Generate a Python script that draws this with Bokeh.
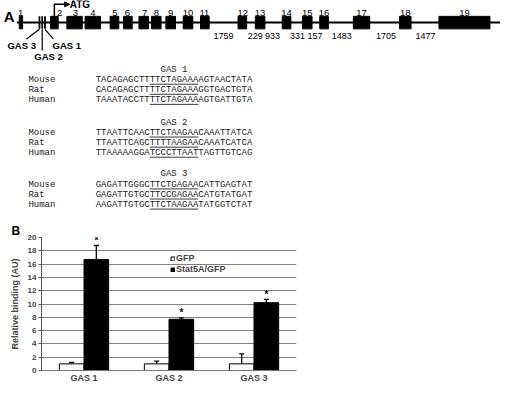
from bokeh.plotting import figure
from bokeh.models import (Range1d, FactorRange, FixedTicker, Whisker, TeeHead,
                          LabelSet, Legend, LegendItem, Arrow, NormalHead, ColumnDataSource)
from bokeh.transform import dodge
from bokeh.layouts import column
from bokeh.core.properties import value
from bokeh.embed import file_html
from bokeh.resources import INLINE

SANS = "Liberation Sans"
MONO = "Liberation Mono"

# ---------------- Panel A data (schematic, reference-pixel units) ----------------
gene_line_x = [17, 520]
gene_line_y = 23
exon_labels = [str(i) for i in range(1, 20)]
exon_start = [19.5, 52, 69, 88, 114, 128, 144, 157, 172, 190, 208, 247, 265, 293, 314, 332, 367, 415, 456]
exon_end = [23, 60, 85, 104, 123, 137, 154, 167, 182, 200, 217, 256, 275, 302, 324, 341, 384, 427, 509]
exon_label_x = [21, 61.5, 78, 96, 119, 132, 150, 162, 177, 195, 212, 252, 270, 297.5, 319, 336.5, 375.5, 421, 482.5]
intron_sizes = ["1759", "229", "933", "331", "157", "1483", "1705", "1477"]
intron_label_x = [232, 265, 283, 309, 327, 355, 401, 442]

gas_names = ["GAS 1", "GAS 2", "GAS 3"]
gas_site_x = [46.3, 43.4, 40.5]
gas_line_end_x = [55, 43.4, 27]
gas_line_end_y = [40, 52, 40]
gas_label_x = [69, 50, 22]
gas_label_y = [46.5, 58.5, 46.5]

atg_x = [56, 56, 69]
atg_y = [16.5, 4, 4]

species = ["Mouse", "Rat", "Human"]
gas1_seq = ["TACAGAGCTTTTCTAGAAAAGTAACTATA",
            "CACAGAGCTTTTCTAGAAAGGTGACTGTA",
            "TAAATACCTTTTCTAGAAAAGTGATTGTA"]
gas2_seq = ["TTAATTCAACTTCTAAGAACAAATTATCA",
            "TTAATTCAGCTTTTAAGAACAAATCATCA",
            "TTAAAAAGGATCCCTTAATTAGTTGTCAG"]
gas3_seq = ["GAGATTGGGCTTCTGAGAACATTGAGTAT",
            "GAGATTGTGCTTCCGAGAACATGTATGAT",
            "AAGATTGTGCTTCTAAGAATATGGTCTAT"]
block_titles = ["GAS 1", "GAS 2", "GAS 3"]
block_title_y = [72, 127, 181]
motif_start = 10
motif_len = 9

# ---------------- Panel B data ----------------
categories = ["GAS 1", "GAS 2", "GAS 3"]
gfp = [1.0, 1.0, 1.0]
gfp_err = [0.2, 0.4, 1.5]
stat5a = [16.7, 7.7, 10.2]
stat5a_err = [2.1, 0.2, 0.5]
y_ticks = [0, 2, 4, 6, 8, 10, 12, 14, 16, 18, 20]

# ================= Panel A =================
S = 500 / 520.0
pa = figure(width=500, height=221, x_range=Range1d(0, 520), y_range=Range1d(230, 0),
            output_backend="svg", toolbar_location=None, min_border=0,
            x_axis_location=None, y_axis_location=None, frame_align=False)
pa.grid.visible = False
pa.outline_line_color = None

pa.line(gene_line_x, [gene_line_y] * 2, line_color="black", line_width=2)
pa.quad(left=exon_start, right=exon_end, top=16.5, bottom=29.5, color="black")
pa.segment(x0=gas_site_x, y0=[16.5] * 3, x1=gas_site_x, y1=[29.5] * 3,
           line_color="black", line_width=1.8)
pa.segment(x0=gas_site_x, y0=[30] * 3, x1=gas_line_end_x, y1=gas_line_end_y,
           line_color="black", line_width=1.2)
pa.text(x=gas_label_x, y=gas_label_y, text=gas_names, text_font=value(SANS),
        text_font_style="bold", text_font_size="9.5px", text_align="center",
        text_baseline="middle", text_color="black")

pa.line(atg_x, atg_y, line_color="black", line_width=1.5)
pa.add_layout(Arrow(end=NormalHead(size=5, fill_color="black", line_color="black"),
                    x_start=atg_x[-1] - 1, y_start=atg_y[-1], x_end=atg_x[-1] + 3, y_end=atg_y[-1],
                    line_color="black", line_width=1.5))
pa.text(x=[atg_x[-1] + 3], y=[atg_y[-1] + 0.5], text=["ATG"], text_font=value(SANS),
        text_font_style="bold", text_font_size="10px", text_align="left",
        text_baseline="middle", text_color="black")

pa.text(x=exon_label_x, y=[13] * len(exon_labels), text=exon_labels, text_font=value(SANS),
        text_font_size="9.5px", text_align="center", text_baseline="middle", text_color="black")
pa.text(x=intron_label_x, y=[36.5] * len(intron_sizes), text=intron_sizes, text_font=value(SANS),
        text_font_size="9px", text_align="center", text_baseline="middle", text_color="black")

pa.text(x=[9], y=[17], text=["A"], text_font=value(SANS), text_font_style="bold",
        text_font_size="15px", text_align="center", text_baseline="middle", text_color="black")

mono_px = 9
cw = 0.6 * mono_px / S
seq_x = 99
spec_x = 29
for title, ty, seqs in zip(block_titles, block_title_y, [gas1_seq, gas2_seq, gas3_seq]):
    rows_y = [ty + 10.5 * (i + 1) for i in range(3)]
    pa.text(x=[seq_x + len(seqs[0]) * cw / 2], y=[ty], text=[title], text_font=value(MONO),
            text_font_size=f"{mono_px}px", text_align="center", text_baseline="middle",
            text_color="#222222")
    pa.text(x=[spec_x] * 3, y=rows_y, text=species, text_font=value(MONO),
            text_font_size=f"{mono_px}px", text_align="left", text_baseline="middle",
            text_color="#222222")
    pa.text(x=[seq_x] * 3, y=rows_y, text=seqs, text_font=value(MONO),
            text_font_size=f"{mono_px}px", text_align="left", text_baseline="middle",
            text_color="#222222")
    x0 = seq_x + motif_start * cw
    x1 = x0 + motif_len * cw
    pa.segment(x0=[x0] * 3, y0=[y + 4.6 for y in rows_y], x1=[x1] * 3, y1=[y + 4.6 for y in rows_y],
               line_color="#222222", line_width=0.9)

# ================= Panel B =================
src = ColumnDataSource(dict(
    cat=categories,
    gfp=gfp,
    gfp_hi=[v + e for v, e in zip(gfp, gfp_err)],
    stat=stat5a,
    stat_hi=[v + e for v, e in zip(stat5a, stat5a_err)],
    star=[v + e + 0.8 for v, e in zip(stat5a, stat5a_err)],
    stxt=["*"] * 3,
))

pb = figure(width=500, height=164, x_range=FactorRange(factors=categories, range_padding=0),
            y_range=Range1d(0, 20), output_backend="svg", toolbar_location=None,
            min_border_left=41, min_border_right=204, min_border_top=13, min_border_bottom=12,
            frame_align=False, title="B")
pb.title.align = "left"
pb.title.offset = -30
pb.title.standoff = 0
pb.title.text_font = SANS
pb.title.text_font_size = "12px"
pb.title.text_font_style = "bold"
pb.title.text_color = "black"
pb.outline_line_color = None
pb.xgrid.grid_line_color = None
pb.ygrid.ticker = FixedTicker(ticks=y_ticks)
pb.ygrid.grid_line_color = "#808080"
pb.ygrid.grid_line_width = 1

off = 0.145
bw = 0.29
r1 = pb.vbar(x=dodge("cat", -off, range=pb.x_range), top="gfp", width=bw, source=src,
             fill_color="white", line_color="black", line_width=1)
r2 = pb.vbar(x=dodge("cat", off, range=pb.x_range), top="stat", width=bw, source=src,
             fill_color="black", line_color="black", line_width=1)

pb.add_layout(Whisker(base=dodge("cat", -off, range=pb.x_range), lower="gfp", upper="gfp_hi",
                      source=src, lower_head=None,
                      upper_head=TeeHead(size=5, line_width=1.3, line_color="black"),
                      line_color="black", line_width=1.3))
pb.add_layout(Whisker(base=dodge("cat", off, range=pb.x_range), lower="stat", upper="stat_hi",
                      source=src, lower_head=None,
                      upper_head=TeeHead(size=5, line_width=1.3, line_color="black"),
                      line_color="black", line_width=1.3))
pb.add_layout(LabelSet(x=dodge("cat", off, range=pb.x_range), y="star", text="stxt", source=src,
                       text_font=value(SANS), text_font_size="10px", text_font_style="bold",
                       text_align="center", text_baseline="middle", text_color="black"))

pb.yaxis.ticker = FixedTicker(ticks=y_ticks)
pb.yaxis.axis_label = "Relative binding (AU)"
pb.yaxis.axis_label_text_font = SANS
pb.yaxis.axis_label_text_font_size = "9px"
pb.yaxis.axis_label_text_font_style = "bold"
pb.yaxis.axis_label_standoff = 5
pb.yaxis.major_label_text_font = SANS
pb.yaxis.major_label_text_font_size = "8px"
pb.yaxis.major_label_text_font_style = "bold"
pb.yaxis.major_label_standoff = 2
pb.yaxis.major_tick_in = 0
pb.yaxis.major_tick_out = 3
pb.yaxis.minor_tick_line_color = None
pb.yaxis.axis_line_color = "#555555"
pb.yaxis.major_tick_line_color = "#555555"

pb.xaxis.axis_label = None
pb.xaxis.axis_label_standoff = 0
pb.xaxis.major_label_text_font = SANS
pb.xaxis.major_label_text_font_size = "9px"
pb.xaxis.major_label_text_font_style = "bold"
pb.xaxis.major_label_standoff = 2
pb.xaxis.major_tick_out = 0
pb.xaxis.major_tick_in = 0
pb.xaxis.minor_tick_out = 0
pb.xaxis.major_tick_line_color = None
pb.xaxis.axis_line_color = "#777777"

legend = Legend(items=[LegendItem(label="GFP", renderers=[r1]),
                       LegendItem(label="Stat5A/GFP", renderers=[r2])],
                location=(129, 96), border_line_color=None, background_fill_alpha=0,
                glyph_width=5, glyph_height=5, label_height=9, label_standoff=1,
                label_text_font=SANS, label_text_font_size="9px", label_text_font_style="bold",
                spacing=1, padding=0, margin=0)
pb.add_layout(legend)

layout = column(pa, pb, spacing=0)
open("out.html", "w").write(file_html(layout, INLINE))
